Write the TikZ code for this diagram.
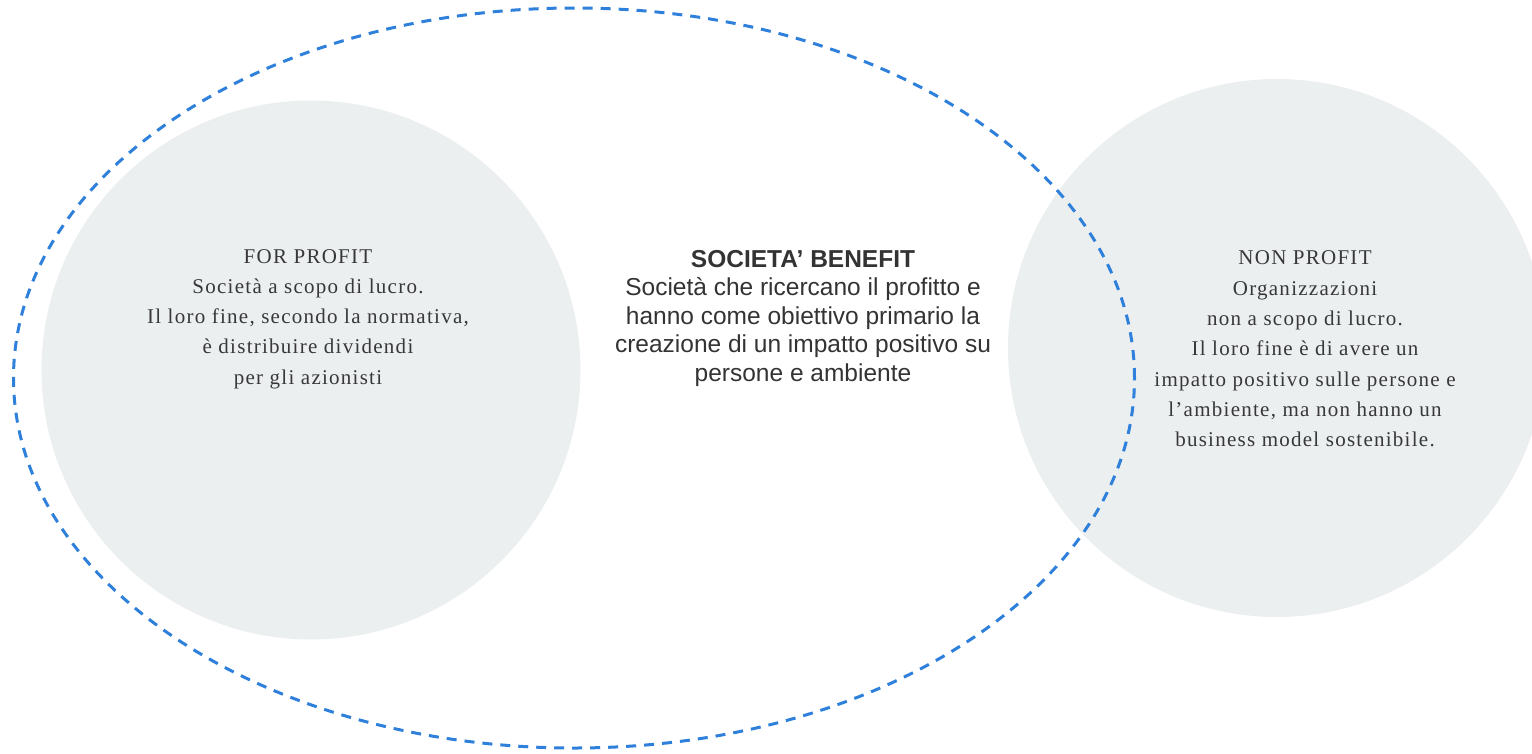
\documentclass[tikz,border=0pt]{standalone}
\usepackage{fontspec}
\usetikzlibrary{shapes.geometric}
\setmainfont{Liberation Serif}
\newfontfamily\sansf{Liberation Sans}
\newfontfamily\widserif[LetterSpace=6]{Liberation Serif}
\definecolor{circfill}{HTML}{ECEFF0}
\definecolor{dashblue}{HTML}{2F80DA}
\definecolor{sidetext}{HTML}{383838}
\definecolor{midtext}{HTML}{333333}
\begin{document}
\begin{tikzpicture}[x=1pt,y=-1pt,
  bubble/.style={circle,fill=circfill,draw=none,minimum size=#1,inner sep=0pt},
  sidelabel/.style={align=center,text=sidetext,font=\widserif\fontsize{21}{30.3}\selectfont},
  midlabel/.style={align=center,text=midtext,font=\sansf\fontsize{24.5}{28.5}\selectfont},
  boundary/.style={draw=dashblue,line width=3pt,dash pattern=on 10pt off 8pt}]
\useasboundingbox (0,0) rectangle (1532,753);
\begin{scope}
\clip (0,0) rectangle (1532,753);
\node[bubble=539pt] (forprofit) at (311,370) {};
\node[bubble=538pt] (nonprofit) at (1277,348) {};
\node[boundary,ellipse,minimum width=1121pt,minimum height=740pt,inner sep=0pt] (benefit) at (574,378) {};
\end{scope}
\node[sidelabel] (fptext) at (308,319) {FOR PROFIT\\Società a scopo di lucro.\\Il loro fine, secondo la normativa,\\è distribuire dividendi\\per gli azionisti};
\node[midlabel] (sbtext) at (803,318) {\textbf{SOCIETA’ BENEFIT}\\Società che ricercano il profitto e\\hanno come obiettivo primario la\\creazione di un impatto positivo su\\persone e ambiente};
\node[sidelabel] (nptext) at (1305,349) {NON PROFIT\\Organizzazioni\\non a scopo di lucro.\\Il loro fine è di avere un\\impatto positivo sulle persone e\\l’ambiente, ma non hanno un\\business model sostenibile.};
\end{tikzpicture}
\end{document}
